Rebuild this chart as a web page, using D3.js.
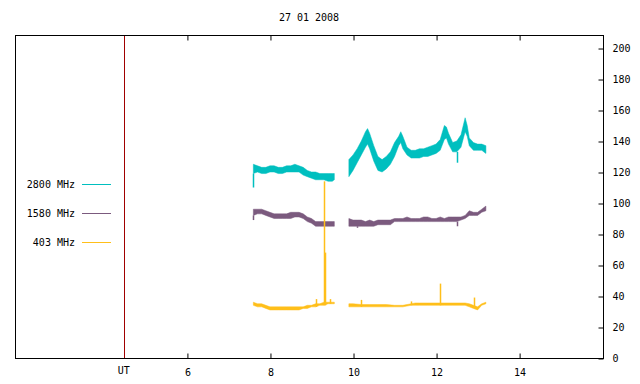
<!DOCTYPE html>
<html>
<head>
<meta charset="utf-8">
<script src="https://cdn.jsdelivr.net/npm/d3@7"></script>
<style>
  body { margin: 0; background: #fff; }
  svg { display: block; }
  text { font-family: "DejaVu Sans Mono", monospace; font-size: 10px; fill: #000; }
</style>
</head>
<body>
<script>
// chart size
var svgWidth = 640;
var svgHeight = 384;

// frame of the plot area
var box = { left: 15, right: 603, top: 35, bottom: 358 };

var title = "27 01 2008";
var xTicks = [6, 8, 10, 12, 14];
var yTicks = [0, 20, 40, 60, 80, 100, 120, 140, 160, 180, 200];
var utTime = 4.48;
var utLabel = "UT";

var seriesNames = ["2800 MHz", "1580 MHz", "403 MHz"];
var seriesColors = ["#00bfbf", "#7b5a7e", "#ffbf1a"];

// [time (h), low, high] of the noisy trace, two segments per frequency
var f2800a = [[7.6,119,125],[7.7,120,124],[7.8,119,123],[7.9,119,123],[8.0,120,124],[8.1,120,124],
  [8.2,119,123],[8.3,119,123],[8.4,120,124],[8.5,120,124],[8.6,120,125],[8.7,120,124],[8.8,118,123],
  [8.9,117,121],[9.0,116,120],[9.1,115,120],[9.2,115,119],[9.3,115,119],[9.4,114,119],[9.5,114,119],[9.55,115,119]];
var f2800b = [[9.9,117,128],[10.0,121,131],[10.1,126,135],[10.2,131,140],[10.3,136,146],[10.35,138,148],
  [10.4,135,145],[10.5,127,137],[10.6,121,130],[10.7,120,128],[10.8,122,130],[10.9,125,133],[11.0,130,139],
  [11.1,137,143],[11.15,139,146],[11.2,135,143],[11.3,131,136],[11.4,129,134],[11.5,129,134],[11.6,129,135],
  [11.7,130,135],[11.8,130,136],[11.9,131,137],[12.0,132,138],[12.1,134,141],[12.2,141,150],[12.25,142,149],
  [12.3,138,145],[12.4,133,139],[12.5,133,140],[12.6,136,144],[12.7,146,155],[12.75,143,150],[12.8,137,142],
  [12.9,134,139],[13.0,134,138],[13.1,134,138],[13.2,132,137]];

var f1580a = [[7.6,92,96],[7.7,93,96],[7.8,93,96],[7.9,92,95],[8.0,91,94],[8.1,90,93],[8.2,90,93],
  [8.3,90,93],[8.4,90,93],[8.5,90,94],[8.6,91,94],[8.7,91,94],[8.8,90,93],[8.9,88,91],[9.0,87,90],
  [9.1,85,88],[9.2,85,88],[9.3,85,88],[9.4,85,88],[9.5,85,88],[9.55,85,88]];
var f1580b = [[9.9,85,90],[10.0,85,89],[10.1,85,89],[10.2,85,89],[10.3,85,88],[10.4,85,89],[10.5,85,88],
  [10.6,86,89],[10.7,86,89],[10.8,86,89],[10.9,86,89],[11.0,88,90],[11.1,88,90],[11.2,88,90],[11.3,88,91],
  [11.4,88,90],[11.5,88,90],[11.6,88,90],[11.7,88,91],[11.8,88,91],[11.9,88,90],[12.0,88,90],[12.1,88,91],
  [12.2,88,90],[12.3,88,91],[12.4,88,91],[12.5,88,91],[12.6,89,91],[12.7,90,92],[12.8,92,95],[12.9,92,94],
  [13.0,92,94],[13.1,94,96],[13.2,95,98]];

var f403a = [[7.6,34,36],[7.7,33,35],[7.8,33,35],[7.9,32,34],[8.0,31,33],[8.1,31,33],[8.2,31,33],
  [8.3,31,33],[8.4,31,33],[8.5,31,33],[8.6,31,33],[8.7,31,33],[8.8,32,33],[8.9,32,34],[9.0,33,34],
  [9.1,33,35],[9.2,34,35],[9.3,34,36],[9.4,35,36],[9.5,35,36],[9.55,35,36]];
var f403b = [[9.9,33,35],[10.0,33,35],[10.2,33,34.5],[10.4,33,34.5],[10.6,33,34.5],[10.8,33,34.5],
  [11.0,33,34],[11.2,33,34],[11.4,34,35],[11.5,34,35.5],[11.6,34,35.5],[11.8,34,35.5],[12.0,34,35.5],
  [12.2,34,35.5],[12.4,34,35.5],[12.6,34,35.5],[12.7,34,35.5],[12.8,33,35],[12.9,32,34],[13.0,31,33],
  [13.1,34,35],[13.2,35,36]];

// isolated spikes: [time, base, peak]
var spikes2800 = [[7.6,119,110],[12.5,133,126]];
var spikes1580 = [[7.6,92,89],[12.5,88,85],[10.1,85,84]];
var spikes403 = [[9.12,33,38],[9.31,34,114],[9.33,34,68],[9.45,35,38],[10.19,33,37.5],[11.4,34,36.5],[12.1,34,48],[12.92,33,39]];

var svg = d3.select("body")
  .append("svg")
  .attr("width", svgWidth)
  .attr("height", svgHeight);

var xScale = d3.scaleLinear()
  .domain([1.86, 16.02])
  .range([box.left, box.right]);

var yScale = d3.scaleLinear()
  .domain([0, 208.4])
  .range([box.bottom, box.top]);

// title
svg.append("text")
  .attr("x", (box.left + box.right) / 2)
  .attr("y", 21)
  .attr("text-anchor", "middle")
  .text(title);

// traces
var area = d3.area()
  .x(d => xScale(d[0]))
  .y0(d => yScale(d[1]))
  .y1(d => yScale(d[2]));

var traces = [[f2800a, f2800b], [f1580a, f1580b], [f403a, f403b]];
var spikeSets = [spikes2800, spikes1580, spikes403];

traces.forEach(function(segs, i) {
  segs.forEach(function(seg) {
    svg.append("path")
      .datum(seg)
      .attr("d", area)
      .attr("fill", seriesColors[i])
      .attr("stroke", seriesColors[i])
      .attr("stroke-width", 0.5);
  });
  svg.selectAll(".spike" + i)
    .data(spikeSets[i])
    .enter()
    .append("line")
    .attr("class", "spike" + i)
    .attr("x1", d => Math.round(xScale(d[0])) + 0.5)
    .attr("x2", d => Math.round(xScale(d[0])) + 0.5)
    .attr("y1", d => yScale(d[1]))
    .attr("y2", d => yScale(d[2]))
    .attr("stroke", seriesColors[i])
    .attr("stroke-width", 1.5);
});

// UT marker
svg.append("line")
  .attr("x1", Math.round(xScale(utTime)) + 0.5)
  .attr("x2", Math.round(xScale(utTime)) + 0.5)
  .attr("y1", box.top)
  .attr("y2", box.bottom)
  .attr("stroke", "#a00000")
  .attr("stroke-width", 1);

svg.append("text")
  .attr("x", xScale(utTime))
  .attr("y", 374)
  .attr("text-anchor", "middle")
  .text(utLabel);

// frame
svg.append("rect")
  .attr("x", box.left + 0.5)
  .attr("y", box.top + 0.5)
  .attr("width", box.right - box.left)
  .attr("height", box.bottom - box.top)
  .attr("fill", "none")
  .attr("stroke", "#000")
  .attr("stroke-width", 1);

// bottom and top ticks (inward)
var bottomAxis = d3.axisBottom(xScale).tickValues(xTicks).tickSizeInner(-5).tickSizeOuter(0).tickPadding(10);
var topAxis = d3.axisTop(xScale).tickValues(xTicks).tickSizeInner(-5).tickSizeOuter(0).tickFormat("");
var rightAxis = d3.axisRight(yScale).tickValues(yTicks).tickSizeInner(-5).tickSizeOuter(0).tickPadding(9);

var gb = svg.append("g")
  .attr("transform", `translate(0.5, ${box.bottom + 0.5})`)
  .call(bottomAxis);
var gt = svg.append("g")
  .attr("transform", `translate(0.5, ${box.top + 0.5})`)
  .call(topAxis);
var gr = svg.append("g")
  .attr("transform", `translate(${box.right + 0.5}, 0.5)`)
  .call(rightAxis);

[gb, gt, gr].forEach(function(g) {
  g.select(".domain").remove();
  g.selectAll("line").attr("stroke", "#000");
  g.selectAll("text").attr("font-family", null).attr("font-size", null);
});
gb.selectAll("text").attr("dy", "0.71em");

// legend
var legend = svg.selectAll(".legend")
  .data(seriesNames)
  .enter()
  .append("g")
  .attr("class", "legend")
  .attr("transform", (d, i) => `translate(0, ${184 + i * 29})`);

legend.append("text")
  .attr("x", 75)
  .attr("dy", "0.35em")
  .attr("text-anchor", "end")
  .text(d => d);

legend.append("line")
  .attr("x1", 82)
  .attr("x2", 111)
  .attr("y1", 0.5)
  .attr("y2", 0.5)
  .attr("stroke", (d, i) => seriesColors[i])
  .attr("stroke-width", 1);
</script>
</body>
</html>
